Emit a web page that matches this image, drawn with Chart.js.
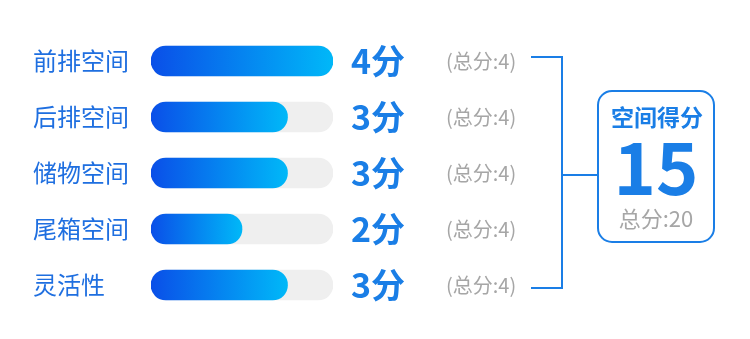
<!DOCTYPE html>
<html>
<head>
<meta charset="utf-8">
<script src="https://cdn.jsdelivr.net/npm/chart.js@4"></script>
<style>
  html, body { margin: 0; padding: 0; background: #fff; }
  #wrap { width: 750px; height: 339px; position: relative; }
</style>
</head>
<body>
<div id="wrap"><canvas id="c"></canvas></div>
<script>
// 数据
const categories = ['前排空间', '后排空间', '储物空间', '尾箱空间', '灵活性'];
const scores = [4, 3, 3, 2, 3];
const maxScores = [4, 4, 4, 4, 4];
const summaryTitle = '空间得分';
const summaryScore = 15;
const summaryMax = 20;

const FONT = '"Noto Sans CJK SC", "Noto Sans", sans-serif';
const BLUE = '#1a7ee6';
const LABEL_BLUE = '#1f6fe0';
const GRAY = '#a6a6a6';

function barGradient(ctx) {
  const chart = ctx.chart;
  const x = chart.scales.x;
  if (!x || !chart.chartArea) return '#0a55ea';
  const v = ctx.raw || 0;
  const x0 = x.getPixelForValue(0);
  const x1 = x.getPixelForValue(v);
  const g = chart.ctx.createLinearGradient(x0, 0, x1, 0);
  g.addColorStop(0, '#0a4fe8');
  g.addColorStop(1, '#00b8f8');
  return g;
}

// 文字、括号线和总分框
const overlay = {
  id: 'overlay',
  afterDatasetsDraw(chart) {
    const c = chart.ctx;
    const y = chart.scales.y;
    c.save();
    c.textBaseline = 'middle';
    categories.forEach((name, i) => {
      const cy = y.getPixelForValue(i);
      c.textAlign = 'left';
      c.fillStyle = LABEL_BLUE;
      c.font = '24px ' + FONT;
      c.fillText(name, 33, cy);
      c.fillStyle = BLUE;
      c.font = 'bold 34px ' + FONT;
      c.fillText(scores[i] + '分', 351, cy);
      c.fillStyle = GRAY;
      c.font = '20px ' + FONT;
      c.fillText('(总分:' + maxScores[i] + ')', 446, cy);
    });

    // 括号
    const top = y.getPixelForValue(0) - 4;
    const bot = y.getPixelForValue(categories.length - 1) + 3;
    const mid = y.getPixelForValue(2) + 2;
    c.strokeStyle = BLUE;
    c.lineWidth = 2;
    c.beginPath();
    c.moveTo(531, top); c.lineTo(562, top); c.lineTo(562, bot); c.lineTo(531, bot);
    c.moveTo(562, mid); c.lineTo(597, mid);
    c.stroke();

    // 总分框
    const bx = 598, by = 91, bw = 116, bh = 151, r = 14;
    c.beginPath();
    c.roundRect(bx, by, bw, bh, r);
    c.fillStyle = '#fff';
    c.fill();
    c.stroke();
    c.textAlign = 'center';
    const cx = bx + bw / 2;
    c.fillStyle = BLUE;
    c.font = 'bold 23px ' + FONT;
    c.fillText(summaryTitle, cx + 1, 117);
    c.font = 'bold 72px ' + FONT;
    c.fillText(String(summaryScore), cx, 168);
    c.fillStyle = GRAY;
    c.font = '22px ' + FONT;
    c.fillText('总分:' + summaryMax, cx, 219);
    c.restore();
  }
};

new Chart(document.getElementById('c'), {
  type: 'bar',
  data: {
    labels: categories,
    datasets: [
      {
        data: scores,
        backgroundColor: barGradient,
        borderRadius: 15,
        borderSkipped: false,
        barThickness: 30,
        order: 0
      },
      {
        data: maxScores,
        backgroundColor: '#efefef',
        borderRadius: 15,
        borderSkipped: false,
        barThickness: 30,
        order: 1
      }
    ]
  },
  options: {
    indexAxis: 'y',
    responsive: true,
    maintainAspectRatio: false,
    animation: false,
    devicePixelRatio: 1,
    layout: { padding: { left: 151, right: 417, top: 33, bottom: 26 } },
    datasets: { bar: { grouped: false } },
    plugins: { legend: { display: false }, tooltip: { enabled: false } },
    scales: {
      x: { min: 0, max: 4, display: false },
      y: { display: false }
    }
  },
  plugins: [overlay]
});
</script>
</body>
</html>
